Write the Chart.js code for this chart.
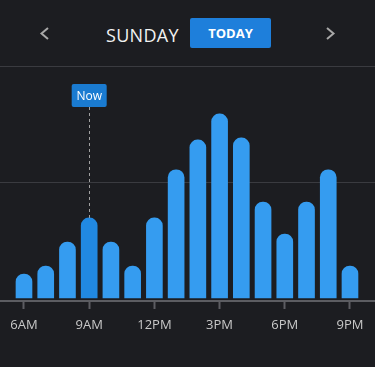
<!DOCTYPE html>
<html>
<head>
<meta charset="utf-8">
<script src="https://cdn.jsdelivr.net/npm/chart.js@4.4.1/dist/chart.umd.min.js"></script>
<style>
  body { margin: 0; background: #1c1d21; font-family: "Open Sans", sans-serif; }
  #header { position: absolute; left: 0; top: 0; width: 375px; height: 66px; border-bottom: 1px solid #3a3b40; }
  #day { position: absolute; left: 106px; top: 20px; line-height: 30px; font-size: 18px; color: #f2f2f2; letter-spacing: 0.3px; }
  #today { position: absolute; left: 190px; top: 18px; width: 81px; height: 30px; line-height: 30px; text-align: center;
           background: #1e7fdb; color: #fff; font-weight: bold; font-size: 13px; border-radius: 2px; }
  #arrows { position: absolute; left: 0; top: 0; }
  #wrap { position: absolute; left: 0; top: 67px; width: 375px; height: 300px; }
</style>
</head>
<body>
<div id="header">
  <svg id="arrows" width="375" height="66">
    <polyline points="48,28 41.5,33.5 48,39" fill="none" stroke="#a8a8a8" stroke-width="2"/>
    <polyline points="327,28 333.5,33.5 327,39" fill="none" stroke="#a8a8a8" stroke-width="2"/>
  </svg>
  <span id="day">SUNDAY</span>
  <div id="today">TODAY</div>
</div>
<div id="wrap"><canvas id="busyChart"></canvas></div>
<script>
// hours of the day (24h) and relative busyness
const hours = [6, 7, 8, 9, 10, 11, 12, 13, 14, 15, 16, 17, 18, 19, 20, 21];
const busyness = [10.4, 13.9, 24.3, 34.8, 24.3, 13.9, 34.8, 55.7, 68.7, 80, 69.6, 41.7, 27.8, 41.7, 55.7, 13.9];
const tickHours = [6, 9, 12, 15, 18, 21];
const tickLabels = ['6AM', '9AM', '12PM', '3PM', '6PM', '9PM'];
const nowHour = 9;

const barColor = '#359cf0';
const nowColor = '#2189e2';

const nowPlugin = {
    id: 'nowMarker',
    afterDatasetsDraw(chart) {
        const ctx = chart.ctx;
        const i = hours.indexOf(nowHour);
        const x = chart.scales.x.getPixelForValue(nowHour);
        const yTop = chart.scales.y.getPixelForValue(busyness[i]);
        const boxTop = chart.chartArea.top + 17;
        const boxH = 23, boxW = 35;

        ctx.save();
        // dashed line from label to bar
        ctx.strokeStyle = '#a0a0a0';
        ctx.lineWidth = 1;
        ctx.setLineDash([3, 3]);
        ctx.beginPath();
        ctx.moveTo(Math.round(x) + 0.5, boxTop + boxH);
        ctx.lineTo(Math.round(x) + 0.5, yTop);
        ctx.stroke();
        ctx.setLineDash([]);

        // label box
        ctx.fillStyle = '#1a7bd1';
        ctx.beginPath();
        ctx.roundRect(x - boxW / 2, boxTop, boxW, boxH, 2);
        ctx.fill();
        ctx.fillStyle = '#ffffff';
        ctx.font = '12px "Open Sans"';
        ctx.textAlign = 'center';
        ctx.textBaseline = 'middle';
        ctx.fillText('Now', x, boxTop + boxH / 2 + 1);
        ctx.restore();
    }
};

const ctx = document.getElementById('busyChart').getContext('2d');
new Chart(ctx, {
    type: 'bar',
    data: {
        labels: hours,
        datasets: [{
            data: busyness,
            backgroundColor: hours.map(h => h === nowHour ? nowColor : barColor),
            barThickness: 16,
            borderRadius: { topLeft: 8, topRight: 8, bottomLeft: 0, bottomRight: 0 },
            borderSkipped: 'bottom'
        }]
    },
    options: {
        responsive: true,
        maintainAspectRatio: false,
        animation: false,
        layout: { padding: 0 },
        plugins: {
            legend: { display: false },
            tooltip: { enabled: false }
        },
        scales: {
            x: {
                type: 'linear',
                min: 4.896,
                max: 22.151,
                offset: false,
                afterBuildTicks: scale => {
                    scale.ticks = tickHours.map(v => ({ value: v }));
                },
                afterFit: scale => { scale.height = 66; },
                grid: {
                    offset: false,
                    drawOnChartArea: false,
                    drawTicks: true,
                    tickLength: 8,
                    tickColor: '#5c5d62',
                    tickWidth: 2
                },
                border: { display: true, color: '#5c5d62', width: 2 },
                ticks: {
                    autoSkip: false,
                    maxRotation: 0,
                    padding: 8,
                    color: '#c8c8c8',
                    font: { family: 'Open Sans', size: 13 },
                    callback: (v, i) => tickLabels[i]
                }
            },
            y: {
                min: -1.3,
                max: 100.4,
                afterBuildTicks: scale => {
                    scale.ticks = [{ value: 50 }];
                },
                grid: { color: '#3a3b40', lineWidth: 1, drawTicks: false },
                border: { display: false },
                ticks: { display: false }
            }
        }
    },
    plugins: [nowPlugin]
});
</script>
</body>
</html>
